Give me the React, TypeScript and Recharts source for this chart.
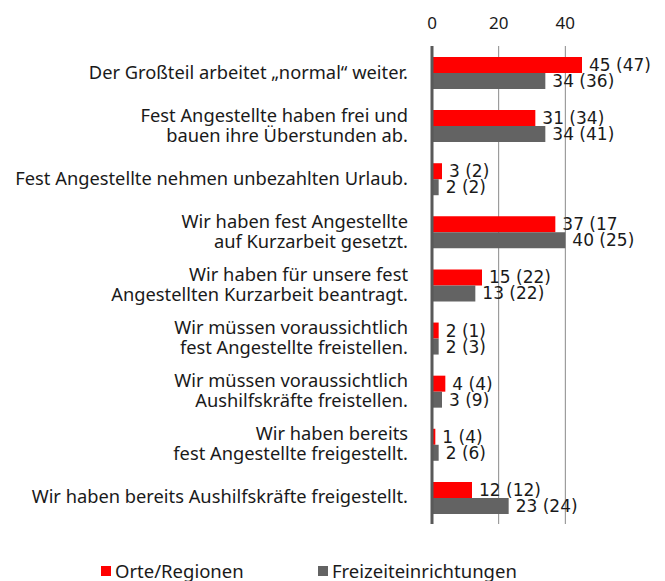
import { BarChart, Bar, XAxis, YAxis, CartesianGrid, LabelList, Legend } from "recharts";

const categories = [
  "Der Großteil arbeitet „normal“ weiter.",
  "Fest Angestellte haben frei und\nbauen ihre Überstunden ab.",
  "Fest Angestellte nehmen unbezahlten Urlaub.",
  "Wir haben fest Angestellte\nauf Kurzarbeit gesetzt.",
  "Wir haben für unsere fest\nAngestellten Kurzarbeit beantragt.",
  "Wir müssen voraussichtlich\nfest Angestellte freistellen.",
  "Wir müssen voraussichtlich\nAushilfskräfte freistellen.",
  "Wir haben bereits\nfest Angestellte freigestellt.",
  "Wir haben bereits Aushilfskräfte freigestellt.",
];

const orte = [45, 31, 3, 37, 15, 2, 4, 1, 12];
const freizeit = [34, 34, 2, 40, 13, 2, 3, 2, 23];

const orteLabels = ["45 (47)", "31 (34)", "3 (2)", "37 (17", "15 (22)", "2 (1)", "4 (4)", "1 (4)", "12 (12)"];
const freizeitLabels = ["34 (36)", "34 (41)", "2 (2)", "40 (25)", "13 (22)", "2 (3)", "3 (9)", "2 (6)", "23 (24)"];

const xTicks = [0, 20, 40];
const xMax = 60;

const data = categories.map((name, i) => ({
  name,
  orte: orte[i],
  freizeit: freizeit[i],
  orteLabel: orteLabels[i],
  freizeitLabel: freizeitLabels[i],
}));

const FONT = "'Noto Sans', sans-serif";

function CategoryTick({ x, y, payload }: any) {
  const lines = String(payload.value).split("\n");
  const lh = 20;
  const first = -((lines.length - 1) * lh) / 2 + 6;
  return (
    <text x={x - 16} y={y} textAnchor="end" fontFamily={FONT} fontSize={18.3} fill="#1a1a1a">
      {lines.map((l, i) => (
        <tspan key={i} x={x - 16} dy={i === 0 ? first : lh}>
          {l}
        </tspan>
      ))}
    </text>
  );
}

function LegendContent() {
  const item = (left: number, color: string, text: string) => (
    <div style={{ position: "absolute", left, top: 0, display: "flex", alignItems: "center" }}>
      <div style={{ width: 10, height: 10, background: color, marginRight: 4 }} />
      <span style={{ fontFamily: FONT, fontSize: 18.5, color: "#1a1a1a", lineHeight: "22px" }}>{text}</span>
    </div>
  );
  return (
    <div style={{ position: "relative", width: 665, height: 22 }}>
      {item(101, "#ff0000", "Orte/Regionen")}
      {item(318, "#636363", "Freizeiteinrichtungen")}
    </div>
  );
}

export default function App() {
  return (
    <div style={{ position: "absolute", left: 0, top: 0, background: "#fff" }}>
      <BarChart
        width={665}
        height={581}
        data={data}
        layout="vertical"
        margin={{ top: 6, right: 33, left: 0, bottom: 35 }}
        barSize={16}
        barGap={0}
      >
        <CartesianGrid
          horizontal={false}
          stroke="#8a8a8a"
          strokeWidth={1}
          verticalCoordinatesGenerator={({ offset }: any) =>
            xTicks.map((t) => offset.left + (t / xMax) * offset.width)
          }
        />
        <XAxis
          type="number"
          orientation="top"
          domain={[0, xMax]}
          ticks={xTicks}
          height={40}
          axisLine={false}
          tickLine={false}
          tickSize={0}
          tickMargin={17}
          tick={{ fill: "#1a1a1a", fontSize: 17, fontFamily: FONT }}
        />
        <YAxis
          type="category"
          dataKey="name"
          width={432}
          axisLine={{ stroke: "#595959", strokeWidth: 3 }}
          tickLine={false}
          tick={<CategoryTick />}
          interval={0}
        />
        <Legend
          verticalAlign="bottom"
          wrapperStyle={{ position: "absolute", top: 560, left: 0, width: 665 }}
          content={<LegendContent />}
        />
        <Bar dataKey="orte" name="Orte/Regionen" fill="#ff0000" isAnimationActive={false}>
          <LabelList
            dataKey="orteLabel"
            position="right"
            offset={7}
            style={{ fontFamily: "'DejaVu Sans', sans-serif", fontSize: 17, fill: "#1a1a1a" }}
          />
        </Bar>
        <Bar dataKey="freizeit" name="Freizeiteinrichtungen" fill="#636363" isAnimationActive={false}>
          <LabelList
            dataKey="freizeitLabel"
            position="right"
            offset={7}
            style={{ fontFamily: "'DejaVu Sans', sans-serif", fontSize: 17, fill: "#1a1a1a" }}
          />
        </Bar>
      </BarChart>
    </div>
  );
}
